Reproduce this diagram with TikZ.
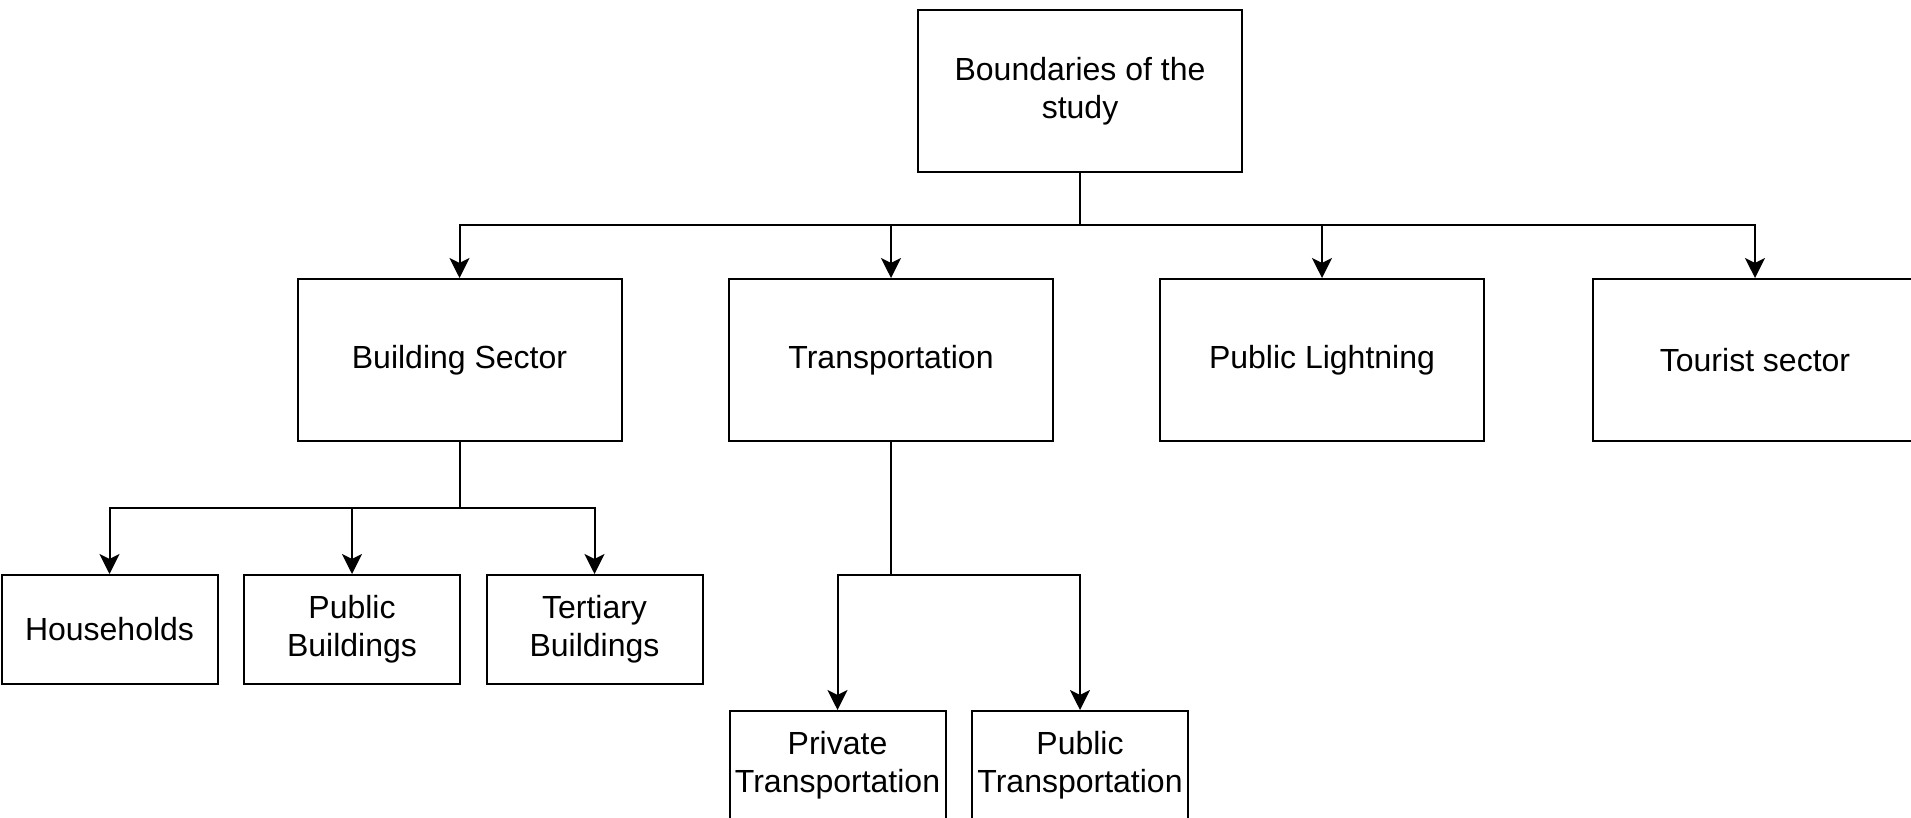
\documentclass[tikz,border=0pt]{standalone}
\usepackage{fontspec}
\setmainfont{Liberation Sans}
\usetikzlibrary{arrows.meta}
\begin{document}
\begin{tikzpicture}[x=1pt,y=-1pt,
  box/.style={draw, line width=2pt, inner sep=0pt, align=center, font=\fontsize{32}{38}\selectfont},
  bigbox/.style={box, minimum width=324pt, minimum height=162pt},
  smallbox/.style={box, minimum width=216pt, minimum height=109pt},
  arr/.style={line width=2pt, -{Stealth[length=20pt,width=20pt,inset=5pt]}},
  ln/.style={line width=2pt}]
\clip (0,0) rectangle (1911,818);
\node[bigbox] (root) at (1080,91) {Boundaries of the\\study};
\node[bigbox] (bs) at (459.5,360) {Building Sector};
\node[bigbox] (tr) at (891,360) {Transportation};
\node[bigbox] (pl) at (1322,360) {Public Lightning};
\node[bigbox] (ts) at (1755,360) {Tourist sector};
\node[smallbox] (hh) at (109.5,629.5) {Households};
\node[smallbox] (pb) at (352,629.5) {Public\\Buildings};
\node[smallbox] (tb) at (594.5,629.5) {Tertiary\\Buildings};
\node[smallbox] (pt) at (837.5,765.5) {Private\\Transportation};
\node[smallbox] (pu) at (1080,765.5) {Public\\Transportation};
\coordinate (bus1) at (0,225);
\coordinate (bus2) at (0,508);
\coordinate (bus3) at (0,575);
\foreach \n in {bs,tr,pl,ts}
  \draw[arr] (root.south) -- (root.south |- bus1) -| (\n.north);
\foreach \n in {hh,pb,tb}
  \draw[arr] (bs.south) -- (bs.south |- bus2) -| (\n.north);
\foreach \n in {pt,pu}
  \draw[arr] (tr.south) -- (tr.south |- bus3) -| (\n.north);
\end{tikzpicture}
\end{document}
